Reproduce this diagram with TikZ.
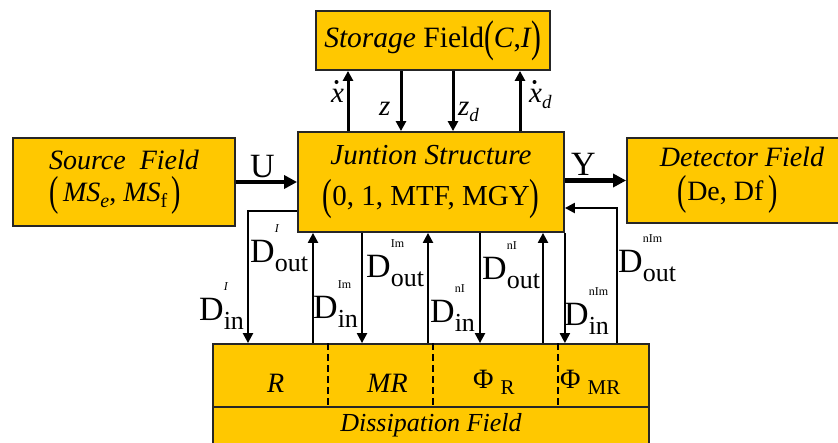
\documentclass[tikz,border=0pt]{standalone}
\usepackage{fontspec}
\setmainfont{Liberation Serif}
\usepackage{graphicx}
\usetikzlibrary{arrows.meta, positioning, calc}

\definecolor{fieldyellow}{RGB}{255,200,0}
\newcommand{\fsz}[1]{\fontsize{#1}{#1}\selectfont}
% tall parentheses round a group
\newcommand{\bparen}[1]{\raisebox{-0.14em}{\scalebox{1}[1.5]{(}}#1\raisebox{-0.14em}{\scalebox{1}[1.5]{)}}}
% lowered index of a given size
\newcommand{\lo}[2]{\raisebox{-0.22em}{\fsz{#1}#2}}
% D with high index and low index
\newcommand{\Dlab}[2]{{\fsz{34}D}\rlap{\raisebox{30pt}{\fsz{12}#1}}\raisebox{-9pt}{\fsz{26}#2}}

\tikzset{
  fieldbox/.style={draw=black!85, line width=1.8pt, fill=fieldyellow, inner sep=0pt, align=center},
  sigarrow/.style={line width=2.2pt, -{Triangle[length=10pt,width=10pt]}},
  storarrow/.style={line width=3pt, -{Triangle[length=10pt,width=10pt]}},
  bigarrow/.style={line width=4.5pt, -{Triangle[length=13pt,width=13pt]}},
  divider/.style={line width=2pt, dash pattern=on 7pt off 4pt},
  dlabel/.style={anchor=base west, inner sep=0pt},
  cell/.style={anchor=base west, inner sep=0pt, font=\fsz{28}},
}

\begin{document}
\begin{tikzpicture}[x=1pt,y=-1pt]
  \useasboundingbox (0,0) rectangle (838,442);
  \clip (0,0) rectangle (838,442);
  % fields
  \node[fieldbox, minimum width=234, minimum height=59, font=\fsz{29.5}] (stor) at (433,40.5)
    {\textit{Storage} Field\bparen{\textit{C},\textit{I}}};
  \node[fieldbox, minimum width=266, minimum height=100, font=\fsz{29}] (junc) at (431,182)
    {\textit{Juntion Structure}\\[12pt]\bparen{0, 1, MTF, MGY}};
  \node[fieldbox, minimum width=222, minimum height=88, font=\fsz{28}, align=left] (src) at (124,182)
    {\textit{Source\ \ Field}\\[4pt]\bparen{\,\textit{MS}\lo{20}{\textit{e}}, \textit{MS}\lo{20}{f}\,}};
  \node[fieldbox, minimum width=230, minimum height=85, font=\fsz{28}, align=left] (det) at (742,180.5)
    {\textit{Detector Field}\\[6pt]\hspace*{18pt}\bparen{De, Df\,}};
  \node[fieldbox, minimum width=436, minimum height=63] (dcell) at (431,375.5) {};
  \node[fieldbox, minimum width=436, minimum height=43, font=\fsz{26}] (dfield) at (431,428.5)
    {\raisebox{13pt}{\textit{Dissipation Field}}};

  % cells of the dissipation field
  \foreach \xd in {328,433,558}
    \draw[divider] (dcell.north -| \xd,0) -- (dcell.south -| \xd,0);
  \node[cell] (cR) at (267,392) {\textit{R}};
  \node[cell] (cMR) at (367,392) {\textit{MR}};
  \node[cell] (cPhiR) at (473,388) {Φ\hspace{7pt}\lo{21}{R}};
  \node[cell] (cPhiMR) at (560,388) {Φ\hspace{7pt}\lo{21}{MR}};

  % storage field links
  \draw[storarrow] (junc.north -| 348,0) -- (stor.south -| 348,0);
  \draw[storarrow] (stor.south -| 401,0) -- (junc.north -| 401,0);
  \draw[storarrow] (stor.south -| 453,0) -- (junc.north -| 453,0);
  \draw[storarrow] (junc.north -| 520,0) -- (stor.south -| 520,0);
  \node[dlabel, font=\fsz{29}] (lx) at (331,102) {\textit{x}};
  \node[dlabel, font=\fsz{29}] (lz) at (379,115) {\textit{z}};
  \node[dlabel, font=\fsz{29}] (lzd) at (458,115) {\textit{z}\lo{19}{\textit{d}}};
  \node[dlabel, font=\fsz{29}] (lxd) at (529,102) {\textit{x}\lo{19}{\textit{d}}};
  \fill ($(lx.base west)+(5.5,-20)$) circle (2);
  \fill ($(lxd.base west)+(5.5,-20)$) circle (2);

  % input and output
  \draw[bigarrow] (src.east) -- (src.east -| junc.west);
  \draw[bigarrow] (junc.east |- det.west) -- (det.west);
  \node[dlabel, font=\fsz{34}] (lU) at (250,177) {U};
  \node[dlabel, font=\fsz{34}] (lY) at (571,175) {Y};

  % dissipation field links
  \draw[sigarrow] (junc.west |- 0,211) -| (dcell.north -| 248,0);
  \draw[sigarrow] (dcell.north -| 313,0) -- (junc.south -| 313,0);
  \draw[sigarrow] (junc.south -| 362,0) -- (dcell.north -| 362,0);
  \draw[sigarrow] (dcell.north -| 428,0) -- (junc.south -| 428,0);
  \draw[sigarrow] (junc.south -| 480,0) -- (dcell.north -| 480,0);
  \draw[sigarrow] (dcell.north -| 543,0) -- (junc.south -| 543,0);
  \draw[sigarrow] (junc.south east) -- (dcell.north -| junc.south east);
  \draw[sigarrow] (dcell.north -| 617,0) |- (junc.east |- 0,208);

  \node[dlabel] (dinI) at (199,320) {\Dlab{\textit{I}}{in}};
  \node[dlabel] (doutI) at (250,262) {\Dlab{\textit{I}}{out}};
  \node[dlabel] (dinIm) at (313,318) {\Dlab{Im}{in}};
  \node[dlabel] (doutIm) at (366,277) {\Dlab{Im}{out}};
  \node[dlabel] (dinnI) at (430,322) {\Dlab{nI}{in}};
  \node[dlabel] (doutnI) at (482,279) {\Dlab{nI}{out}};
  \node[dlabel] (dinnIm) at (564,325) {\Dlab{nIm}{in}};
  \node[dlabel] (doutnIm) at (618,272) {\Dlab{nIm}{out}};
\end{tikzpicture}
\end{document}
